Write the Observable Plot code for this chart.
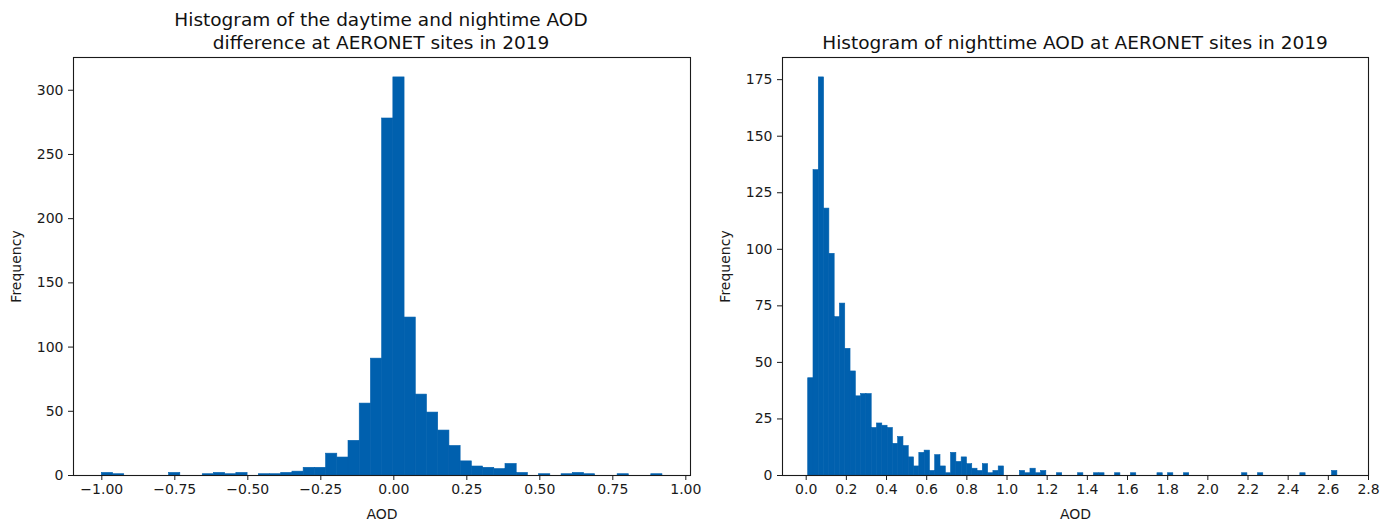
<!DOCTYPE html>
<html><head><meta charset="utf-8">
<script src="https://cdn.jsdelivr.net/npm/d3@7"></script>
<script src="https://cdn.jsdelivr.net/npm/@observablehq/plot@0.6"></script>
<style>
body{margin:0;background:#fff;font-family:"DejaVu Sans",sans-serif;}
#wrap{position:relative;width:1380px;height:524px;overflow:hidden;background:#fff}
.title{position:absolute;text-align:center;font-size:18.5px;line-height:23px;color:#111;white-space:nowrap}
.panel{position:absolute}
</style></head><body>
<div id="wrap">
 <div class="panel" id="p1" style="left:0;top:56px"></div>
 <div class="panel" id="p2" style="left:692px;top:56px"></div>
 <div class="title" style="left:131px;width:500px;top:8px">Histogram of the daytime and nightime AOD<br>difference at AERONET sites in 2019</div>
 <div class="title" style="left:775px;width:600px;top:31px">Histogram of nighttime AOD at AERONET sites in 2019</div>
</div>
<script>
// ---- Left histogram: daytime minus nighttime AOD (50 bins) ----
const diffBinStart = -1.0;
const diffBinWidth = 0.0384;
const diffCounts = [2,1,0,0,0,0,2,0,0,1, 2,1,2,0,1,1,2,3,6,6, 17,14,27,56,91,278,310,123,63,49, 35,23,11,7,6,5,9,2,0,1, 0,1,2,1,0,0,1,0,0,1];
const diffXTicks = [-1.0,-0.75,-0.5,-0.25,0,0.25,0.5,0.75,1.0];
const diffYTicks = [0,50,100,150,200,250,300];

// ---- Right histogram: nighttime AOD (100 bins) ----
const nightBinStart = 0.01;
const nightBinWidth = 0.02635;
const nightCounts = [43,135,176,118,98,70,76,56,46,35, 36,36,21,23,22,21,14,17,13,8, 4,10,11,2,9,4,1,10,6,8, 5,3,2,5,1,2,4,0,0,0, 2,1,3,1,2,0,0,1,0,0, 0,1,0,0,1,1,0,0,1,0, 0,1,0,0,0,0,1,0,1,0, 0,1,0,0,0,0,0,0,0,0, 0,0,1,0,0,1,0,0,0,0, 0,0,0,1,0,0,0,0,0,2];
const nightXTicks = [0,0.2,0.4,0.6,0.8,1.0,1.2,1.4,1.6,1.8,2.0,2.2,2.4,2.6,2.8];
const nightYTicks = [0,25,50,75,100,125,150,175];

const barColor = "#0060ae";
const ink = "#1a1a1a";

function toBins(start, width, counts) {
  return counts.map((c, i) => ({x1: start + i * width, x2: start + (i + 1) * width, count: c}));
}

function hist({bins, xDomain, yDomain, xTicks, yTicks, xFmt, width, marginLeft, marginRight, yLabelOffset}) {
  return Plot.plot({
    width, height: 468,
    marginTop: 1, marginBottom: 49, marginLeft, marginRight,
    style: {fontFamily: "DejaVu Sans, sans-serif", fontSize: "14px", color: ink, background: "none", overflow: "visible"},
    x: {domain: xDomain},
    y: {domain: yDomain},
    marks: [
      Plot.rectY(bins.filter(d => d.count > 0), {x1: "x1", x2: "x2", y1: 0, y2: "count", fill: barColor, stroke: barColor, strokeWidth: 0.6, inset: 0}),
      Plot.frame({stroke: ink, strokeWidth: 1.1}),
      Plot.axisX({ticks: xTicks, tickFormat: xFmt, tickSize: 5, tickPadding: 4, stroke: ink,
        label: "AOD", labelAnchor: "center", labelArrow: "none", labelOffset: 43}),
      Plot.axisY({ticks: yTicks, tickSize: 5, tickPadding: 5, stroke: ink,
        label: "Frequency", labelAnchor: "center", labelArrow: "none", labelOffset: yLabelOffset})
    ]
  });
}

document.getElementById("p1").appendChild(hist({
  bins: toBins(diffBinStart, diffBinWidth, diffCounts),
  xDomain: [-1.097, 1.016], yDomain: [0, 325.5],
  xTicks: diffXTicks, yTicks: diffYTicks, xFmt: d3.format(".2f"),
  width: 692, marginLeft: 73, marginRight: 2, yLabelOffset: 62
}));
document.getElementById("p2").appendChild(hist({
  bins: toBins(nightBinStart, nightBinWidth, nightCounts),
  xDomain: [-0.118, 2.8], yDomain: [0, 184.8],
  xTicks: nightXTicks, yTicks: nightYTicks, xFmt: d3.format(".1f"),
  width: 688, marginLeft: 90, marginRight: 12, yLabelOffset: 62
}));
</script>
</body></html>
